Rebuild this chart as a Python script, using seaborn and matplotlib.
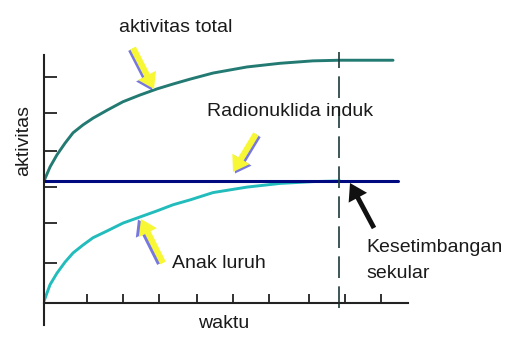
import numpy as np
import pandas as pd
import matplotlib.pyplot as plt
import seaborn as sns

# curves (time units / activity units, parent = 2)
t_total = [0, 0.165, 0.357, 0.577, 0.797, 1.071, 1.346, 1.731, 2.170,
           2.637, 3.104, 3.544, 4.011, 4.643, 5.577, 6.484, 7.390, 8.132,
           9.588]
a_total = [2.0, 2.23, 2.43, 2.62, 2.79, 2.92, 3.03, 3.16, 3.30,
           3.41, 3.51, 3.59, 3.67, 3.77, 3.87, 3.93, 3.97, 3.98,
           3.98]

t_daughter = [0, 0.165, 0.357, 0.577, 0.797, 1.071, 1.346, 1.731, 2.170,
              2.637, 3.104, 3.544, 4.011, 4.643, 5.577, 6.484, 7.390, 8.132]
a_daughter = [0.03, 0.30, 0.49, 0.67, 0.82, 0.95, 1.07, 1.18, 1.31,
              1.41, 1.51, 1.61, 1.69, 1.81, 1.90, 1.96, 1.99, 2.0]

t_parent = [0, 9.73]
a_parent = [2.0, 2.0]

t_equilibrium = 8.1

y_ticks = [0.66, 1.31, 1.90, 2.49, 3.11, 3.70]
x_ticks = [1.18, 2.17, 3.16, 4.20, 5.19, 6.18, 7.28, 8.27, 9.26]

sns.set_theme(style="white")
plt.rcParams["font.family"] = ["Liberation Sans", "DejaVu Sans"]

fig = plt.figure(figsize=(5.13, 3.38), dpi=100)
ax = fig.add_axes([0.0858, 0.0385, 0.7096, 0.7988])

sns.lineplot(x=t_total, y=a_total, color="#237a72", lw=2.1, ax=ax,
             estimator=None, sort=False)
sns.lineplot(x=t_daughter, y=a_daughter, color="#22bcbc", lw=2.1, ax=ax,
             estimator=None, sort=False)
sns.lineplot(x=t_parent, y=a_parent, color="#000a80", lw=2.2, ax=ax,
             estimator=None, sort=False)

ax.plot([t_equilibrium, t_equilibrium], [-0.08, 4.12], color="#1d3b3a",
        lw=1.2, dashes=(13, 5), clip_on=False)

ax.set_xlim(0, 10)
ax.set_ylim(-0.361, 4.066)
ax.set_xticks(x_ticks)
ax.set_yticks(y_ticks)
ax.set_xticklabels([])
ax.set_yticklabels([])
ax.tick_params(axis="y", direction="in", length=9.5, width=1.3,
               colors="#222222", left=True)
ax.tick_params(axis="x", direction="in", length=6.5, width=1.3,
               colors="#222222", bottom=True)
for side in ["top", "right"]:
    ax.spines[side].set_visible(False)
ax.spines["bottom"].set_position(("data", 0))
for side in ["left", "bottom"]:
    ax.spines[side].set_linewidth(1.5)
    ax.spines[side].set_color("#222222")

txt = dict(fontsize=14, color="#1a1a1a")
fig.text(176, 338 - 27, "aktivitas total", ha="center", va="center",
         transform=None, **txt)
fig.text(207, 338 - 111, "Radionuklida induk", ha="left", va="center",
         transform=None, **txt)
fig.text(172, 338 - 263, "Anak luruh", ha="left", va="center",
         transform=None, **txt)
fig.text(366, 338 - 248, "Kesetimbangan", ha="left", va="center",
         transform=None, **txt)
fig.text(366, 338 - 273, "sekular", ha="left", va="center",
         transform=None, **txt)
fig.text(24, 338 - 140, "aktivitas", ha="center", va="center",
         rotation=90, transform=None, **txt)
fig.text(224, 338 - 324, "waktu", ha="center", va="center",
         transform=None, **txt)


def arrow(tail, head, fc, shadow=None,
          style="simple,head_length=1.1,head_width=1.45,tail_width=0.45"):
    if shadow is not None:
        dx, dy = shadow
        ax.annotate("", xy=(head[0] + dx, 338 - head[1] - dy),
                    xytext=(tail[0] + dx, 338 - tail[1] - dy),
                    xycoords="figure pixels", textcoords="figure pixels",
                    arrowprops=dict(arrowstyle=style, fc="#4a4ad8", ec="none",
                                    alpha=0.75, mutation_scale=10,
                                    shrinkA=0, shrinkB=0))
    ax.annotate("", xy=(head[0], 338 - head[1]),
                xytext=(tail[0], 338 - tail[1]),
                xycoords="figure pixels", textcoords="figure pixels",
                arrowprops=dict(arrowstyle=style, fc=fc, ec="none",
                                mutation_scale=10, shrinkA=0, shrinkB=0))


arrow((133, 48), (154, 89), "#f7f736", shadow=(-2, 1.5))
arrow((256, 134), (233, 172), "#f7f736", shadow=(2, 1.5))
arrow((163, 263), (141, 219), "#f7f736", shadow=(-3, 0.5))
arrow((374, 228), (350, 183), "#111111",
      style="simple,head_length=1.2,head_width=1.5,tail_width=0.35")

fig.savefig("out.png", dpi=100)
